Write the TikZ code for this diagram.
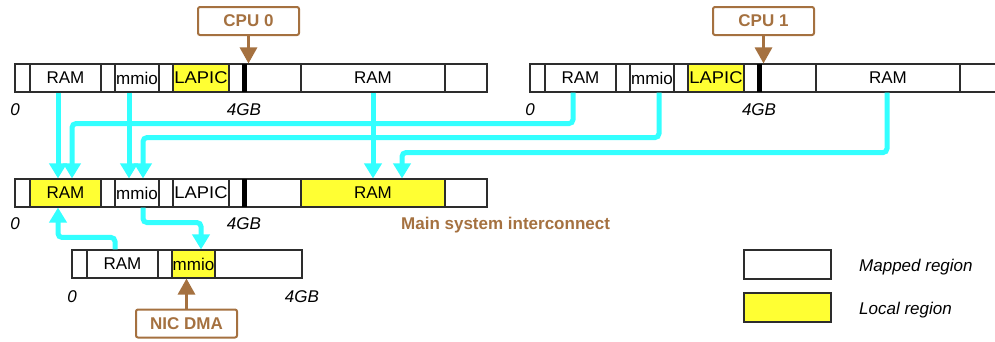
\documentclass[tikz,border=0pt]{standalone}
\usepackage{fontspec}
\usepackage{graphicx}
\setmainfont{Liberation Sans}
\usetikzlibrary{arrows.meta}
\definecolor{cyn}{RGB}{51,255,255}
\definecolor{brn}{RGB}{165,113,64}
\definecolor{ylw}{RGB}{255,255,51}
\definecolor{edge}{RGB}{45,45,45}
\newcommand\segm[6]{\node[seg,#5,minimum width={(#3-#2)*1pt}] (#1) at ({(#2+#3)/2},{#4+14}) {#6};}
\begin{document}
\begin{tikzpicture}[x=1pt,y=-1pt,
  seg/.style={draw=edge, line width=1.1pt, fill=white, inner sep=0pt, minimum height=28pt,
    font=\fontsize{17}{19}\selectfont},
  loc/.style={fill=ylw},
  blk/.style={fill=black, inner sep=0pt, minimum width=5pt, minimum height=28pt},
  lab/.style={font=\fontsize{17}{19}\selectfont\itshape, inner sep=0pt},
  brbox/.style={draw=brn, line width=2pt, rounded corners=2pt, fill=white, text=brn,
    font=\fontsize{17}{19}\selectfont\bfseries, minimum width=101pt, minimum height=28pt, inner sep=0pt},
  brarrow/.style={draw=brn, line width=3pt, -{Triangle[width=17pt,length=16pt]}},
  cy/.style={draw=cyn, line width=5pt, rounded corners=4pt, -{Triangle[width=17pt,length=15pt]}},
  legbox/.style={draw=edge, line width=1.3pt, fill=white, minimum width=87pt, minimum height=29pt, inner sep=0pt},
  legtxt/.style={font=\fontsize{17}{19}\selectfont\itshape, anchor=west, inner sep=0pt}]
\useasboundingbox (0,0) rectangle (995,341);
\clip (0,0) rectangle (995,341);
% CPU 0 view
\segm{a1}{15}{30}{64}{}{}
\segm{a2}{30}{101}{64}{}{RAM}
\segm{a3}{101}{115}{64}{}{}
\segm{a4}{115}{159}{64}{}{mmio}
\segm{a5}{159}{173}{64}{}{}
\segm{a6}{173}{229}{64}{loc}{\scalebox{1.08}[1]{LAPIC}}
\segm{a7}{229}{301}{64}{}{}
\segm{a8}{301}{445}{64}{}{RAM}
\segm{a9}{445}{487}{64}{}{}
\node[blk] (ab) at (244.5,78) {};
\node[lab] (az) at (15,110) {0};
\node[lab] (ag) at (244,110) {4GB};
% CPU 1 view
\segm{b1}{530}{545}{64}{}{}
\segm{b2}{545}{616}{64}{}{RAM}
\segm{b3}{616}{630}{64}{}{}
\segm{b4}{630}{674}{64}{}{mmio}
\segm{b5}{674}{688}{64}{}{}
\segm{b6}{688}{744}{64}{loc}{\scalebox{1.08}[1]{LAPIC}}
\segm{b7}{744}{816}{64}{}{}
\segm{b8}{816}{960}{64}{}{RAM}
\segm{b9}{960}{1002}{64}{}{}
\node[blk] (bb) at (759.5,78) {};
\node[lab] (bz) at (530,110) {0};
\node[lab] (bg) at (759,110) {4GB};
% Main system interconnect view
\segm{m1}{15}{30}{179}{}{}
\segm{m2}{30}{101}{179}{loc}{RAM}
\segm{m3}{101}{115}{179}{}{}
\segm{m4}{115}{159}{179}{}{mmio}
\segm{m5}{159}{173}{179}{}{}
\segm{m6}{173}{229}{179}{}{\scalebox{1.08}[1]{LAPIC}}
\segm{m7}{229}{301}{179}{}{}
\segm{m8}{301}{445}{179}{loc}{RAM}
\segm{m9}{445}{487}{179}{}{}
\node[blk] (mb) at (244.5,193) {};
\node[lab] (mz) at (15,224) {0};
\node[lab] (mg) at (244,224) {4GB};
\node[anchor=west, inner sep=0pt, text=brn, font=\fontsize{17}{19}\selectfont\bfseries] (mt) at (401,225) {Main system interconnect};
% NIC view
\segm{n1}{72}{87}{250}{}{}
\segm{n2}{87}{158}{250}{}{RAM}
\segm{n3}{158}{172}{250}{}{}
\segm{n4}{172}{215}{250}{loc}{mmio}
\segm{n5}{215}{302}{250}{}{}
\node[lab] (nz) at (72,297) {0};
\node[lab] (ng) at (302,297) {4GB};
% masters
\node[brbox] (cpu0) at (248.5,21) {CPU 0};
\node[brbox] (cpu1) at (763.5,21) {CPU 1};
\node[brbox] (nic) at (186.5,323.5) {NIC DMA};
\draw[brarrow] (cpu0.south) -- (cpu0.south |- a7.north);
\draw[brarrow] (cpu1.south) -- (cpu1.south |- b7.north);
\draw[brarrow] (nic.north) -- (nic.north |- n4.south);
% cyan mappings
\draw[cy] ([xshift=-7.5pt]a2.south) -- ([xshift=-7.5pt]m2.north);
\draw[cy] ([xshift=-7.5pt]b2.south) -- ++(0,31) -| ([xshift=6.5pt]m2.north);
\draw[cy] ([xshift=-8pt]a4.south) -- ([xshift=-8pt]m4.north);
\draw[cy] ([xshift=7pt]b4.south) -- ++(0,45) -| ([xshift=6pt]m4.north);
\draw[cy] (a8.south) -- (m8.north);
\draw[cy] ([xshift=-1pt]b8.south) -- ++(0,60) -| ([xshift=29pt]m8.north);
\draw[cy] ([xshift=6pt]m4.south) -- ++(0,15) -| ([xshift=7.5pt]n4.north);
\draw[cy] ([xshift=-7.5pt]n2.north) -- ++(0,-12) -| ([xshift=-7.5pt]m2.south);
% legend
\node[legbox] (lm) at (787.5,264.5) {};
\node[legbox,loc] (ll) at (787.5,307.5) {};
\node[legtxt] (lmt) at (859,267) {Mapped region};
\node[legtxt] (llt) at (859,310) {Local region};
\end{tikzpicture}
\end{document}
